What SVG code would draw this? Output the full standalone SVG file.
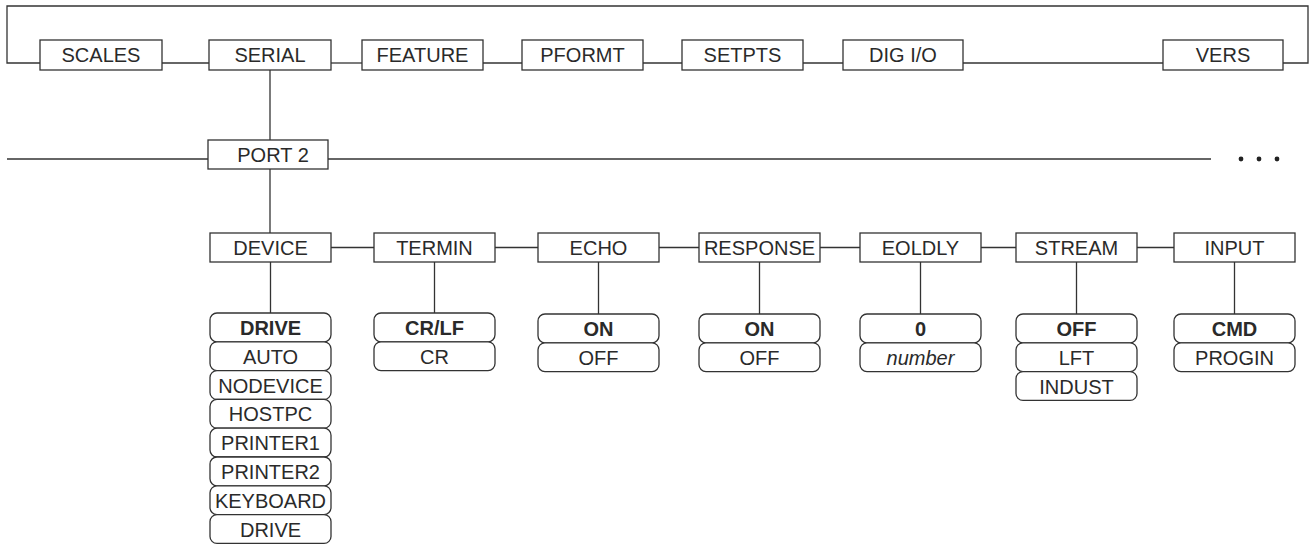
<svg xmlns="http://www.w3.org/2000/svg" width="1310" height="546" viewBox="0 0 1310 546">
<style>
.bx{fill:#fff;stroke:#333;stroke-width:1.3}
.pl{fill:#fff;stroke:#333;stroke-width:1.3}
.ln{fill:none;stroke:#333;stroke-width:1.3}
text{font-family:"Liberation Sans",Arial,sans-serif;font-size:20px;fill:#2a2a2a;text-anchor:middle}
.b{font-weight:bold}
.i{font-style:italic}
</style>
<rect width="1310" height="546" fill="#fff"/>
<g id="connectors" class="ln">
<polyline points="40,63 7,63 7,6 1308,6 1308,63 1283,63"/>
<line x1="162" y1="63" x2="209" y2="63"/>
<line x1="331" y1="63" x2="362" y2="63"/>
<line x1="483" y1="63" x2="522" y2="63"/>
<line x1="643" y1="63" x2="682" y2="63"/>
<line x1="803" y1="63" x2="843" y2="63"/>
<line x1="963" y1="63" x2="1163" y2="63"/>
<line x1="270" y1="70" x2="270" y2="140"/>
<line x1="7" y1="159" x2="208" y2="159"/>
<line x1="328" y1="159" x2="1211" y2="159"/>
<line x1="270" y1="169" x2="270" y2="233"/>
<line x1="331" y1="247.5" x2="374" y2="247.5"/>
<line x1="495" y1="247.5" x2="538" y2="247.5"/>
<line x1="659" y1="247.5" x2="699" y2="247.5"/>
<line x1="820" y1="247.5" x2="860" y2="247.5"/>
<line x1="981" y1="247.5" x2="1016" y2="247.5"/>
<line x1="1137" y1="247.5" x2="1174" y2="247.5"/>
<line x1="270.5" y1="262" x2="270.5" y2="313"/>
<line x1="434.5" y1="262" x2="434.5" y2="313"/>
<line x1="598.5" y1="262" x2="598.5" y2="314"/>
<line x1="759.5" y1="262" x2="759.5" y2="314"/>
<line x1="920.5" y1="262" x2="920.5" y2="314"/>
<line x1="1076.5" y1="262" x2="1076.5" y2="314"/>
<line x1="1234.5" y1="262" x2="1234.5" y2="314"/>
</g>
<g id="more" fill="#222">
<circle cx="1241" cy="159" r="2.4"/>
<circle cx="1259" cy="159" r="2.4"/>
<circle cx="1277" cy="159" r="2.4"/>
</g>
<g id="scales"><rect class="bx" x="40" y="40" width="122" height="30"/><text x="101" y="62">SCALES</text></g>
<g id="serial"><rect class="bx" x="209" y="40" width="122" height="30"/><text x="270" y="62">SERIAL</text></g>
<g id="feature"><rect class="bx" x="362" y="40" width="121" height="30"/><text x="422.5" y="62">FEATURE</text></g>
<g id="pformt"><rect class="bx" x="522" y="40" width="121" height="30"/><text x="582.5" y="62">PFORMT</text></g>
<g id="setpts"><rect class="bx" x="682" y="40" width="121" height="30"/><text x="742.5" y="62">SETPTS</text></g>
<g id="digio"><rect class="bx" x="843" y="40" width="120" height="30"/><text x="903" y="62">DIG I/O</text></g>
<g id="vers"><rect class="bx" x="1163" y="40" width="120" height="30"/><text x="1223" y="62">VERS</text></g>
<g id="port2"><rect class="bx" x="208" y="140" width="120" height="29"/><text x="273" y="161.7">PORT 2</text></g>
<g id="device"><rect class="bx" x="210" y="233" width="121" height="29"/><text x="270.5" y="254.5">DEVICE</text></g>
<g id="termin"><rect class="bx" x="374" y="233" width="121" height="29"/><text x="434.5" y="254.5">TERMIN</text></g>
<g id="echo"><rect class="bx" x="538" y="233" width="121" height="29"/><text x="598.5" y="254.5">ECHO</text></g>
<g id="response"><rect class="bx" x="699" y="233" width="121" height="29"/><text x="759.5" y="254.5">RESPONSE</text></g>
<g id="eoldly"><rect class="bx" x="860" y="233" width="121" height="29"/><text x="920.5" y="254.5">EOLDLY</text></g>
<g id="stream"><rect class="bx" x="1016" y="233" width="121" height="29"/><text x="1076.5" y="254.5">STREAM</text></g>
<g id="input"><rect class="bx" x="1174" y="233" width="121" height="29"/><text x="1234.5" y="254.5">INPUT</text></g>
<g id="device-opts">
<rect class="pl" x="210" y="313" width="121" height="28.8" rx="7"/><text class="b" x="270.5" y="335">DRIVE</text>
<rect class="pl" x="210" y="341.8" width="121" height="28.8" rx="7"/><text x="270.5" y="363.8">AUTO</text>
<rect class="pl" x="210" y="370.6" width="121" height="28.8" rx="7"/><text x="270.5" y="392.6">NODEVICE</text>
<rect class="pl" x="210" y="399.4" width="121" height="28.8" rx="7"/><text x="270.5" y="421.4">HOSTPC</text>
<rect class="pl" x="210" y="428.2" width="121" height="28.8" rx="7"/><text x="270.5" y="450.2">PRINTER1</text>
<rect class="pl" x="210" y="457" width="121" height="28.8" rx="7"/><text x="270.5" y="479">PRINTER2</text>
<rect class="pl" x="210" y="485.8" width="121" height="28.8" rx="7"/><text x="270.5" y="507.8">KEYBOARD</text>
<rect class="pl" x="210" y="514.6" width="121" height="28.8" rx="7"/><text x="270.5" y="536.6">DRIVE</text>
</g>
<g id="termin-opts">
<rect class="pl" x="374" y="313" width="121" height="28.8" rx="7"/><text class="b" x="434.5" y="335">CR/LF</text>
<rect class="pl" x="374" y="341.8" width="121" height="28.8" rx="7"/><text x="434.5" y="363.8">CR</text>
</g>
<g id="echo-opts">
<rect class="pl" x="538" y="314" width="121" height="28.8" rx="7"/><text class="b" x="598.5" y="336">ON</text>
<rect class="pl" x="538" y="342.8" width="121" height="28.8" rx="7"/><text x="598.5" y="364.8">OFF</text>
</g>
<g id="response-opts">
<rect class="pl" x="699" y="314" width="121" height="28.8" rx="7"/><text class="b" x="759.5" y="336">ON</text>
<rect class="pl" x="699" y="342.8" width="121" height="28.8" rx="7"/><text x="759.5" y="364.8">OFF</text>
</g>
<g id="eoldly-opts">
<rect class="pl" x="860" y="314" width="121" height="28.8" rx="7"/><text class="b" x="920.5" y="336">0</text>
<rect class="pl" x="860" y="342.8" width="121" height="28.8" rx="7"/><text class="i" x="920.5" y="364.8">number</text>
</g>
<g id="stream-opts">
<rect class="pl" x="1016" y="314" width="121" height="28.8" rx="7"/><text class="b" x="1076.5" y="336">OFF</text>
<rect class="pl" x="1016" y="342.8" width="121" height="28.8" rx="7"/><text x="1076.5" y="364.8">LFT</text>
<rect class="pl" x="1016" y="371.6" width="121" height="28.8" rx="7"/><text x="1076.5" y="393.6">INDUST</text>
</g>
<g id="input-opts">
<rect class="pl" x="1174" y="314" width="121" height="28.8" rx="7"/><text class="b" x="1234.5" y="336">CMD</text>
<rect class="pl" x="1174" y="342.8" width="121" height="28.8" rx="7"/><text x="1234.5" y="364.8">PROGIN</text>
</g>
</svg>
